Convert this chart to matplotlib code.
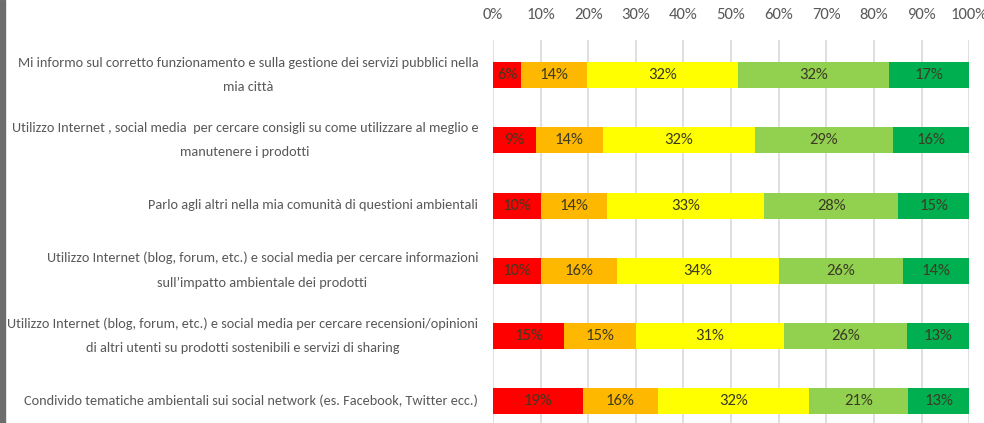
import numpy as np
import matplotlib.pyplot as plt
from matplotlib.patches import Rectangle

plt.rcParams['font.family'] = ['Carlito', 'Roboto Condensed', 'DejaVu Sans']

# domande (dall'alto in basso)
domande = [
    "Mi informo sul corretto funzionamento e sulla gestione dei servizi pubblici nella\nmia città",
    "Utilizzo Internet , social media  per cercare consigli su come utilizzare al meglio e\nmanutenere i prodotti",
    "Parlo agli altri nella mia comunità di questioni ambientali",
    "Utilizzo Internet (blog, forum, etc.) e social media per cercare informazioni\nsull\u2019impatto ambientale dei prodotti",
    "Utilizzo Internet (blog, forum, etc.) e social media per cercare recensioni/opinioni\ndi altri utenti su prodotti sostenibili e servizi di sharing",
    "Condivido tematiche ambientali sui social network (es. Facebook, Twitter ecc.)",
]

# percentuali per livello di frequenza
mai = [6, 9, 10, 10, 15, 19]
raramente = [14, 14, 14, 16, 15, 16]
a_volte = [32, 32, 33, 34, 31, 32]
spesso = [32, 29, 28, 26, 26, 21]
sempre = [17, 16, 15, 14, 13, 13]

colori = ['#FF0000', '#FFB800', '#FFFF00', '#92D050', '#00B050']

serie = np.array([mai, raramente, a_volte, spesso, sempre], dtype=float)
totali = serie.sum(axis=0)
quote = serie / totali * 100  # grafico 100% in pila

fig = plt.figure(figsize=(9.84, 4.23), dpi=100)
ax = fig.add_axes([0.501, 0.0, 0.484, 0.905])

y = np.arange(len(domande))
left = np.zeros(len(domande))
for k in range(len(serie)):
    ax.barh(y, quote[k], left=left, height=0.4, color=colori[k], zorder=2)
    for i in range(len(domande)):
        ax.text(left[i] + quote[k][i] / 2, y[i], f"{int(serie[k][i])}%",
                ha='center', va='center', fontsize=12, color='#3b3b24', zorder=3)
    left += quote[k]

ax.set_xlim(0, 100)
ax.set_ylim(5.34, -0.54)
ax.set_xticks(np.arange(0, 101, 10))
ax.set_xticklabels([f"{t}%" for t in range(0, 101, 10)])
ax.xaxis.tick_top()
ax.tick_params(axis='x', length=0, pad=13, labelsize=12, labelcolor='#595959')
ax.set_yticks([])
ax.grid(axis='x', color='#d9d9d9', linewidth=1.2, zorder=0)
for s in ax.spines.values():
    s.set_visible(False)

# etichette a sinistra, centrate su più righe
for i, d in enumerate(domande):
    fig.text(0.486, 1 - (75 + 65.2 * i) / 423, d, ha='right', va='center',
             multialignment='center', fontsize=10.3, color='#595959', linespacing=2.25)

fig.patches.append(Rectangle((0, 0), 0.005, 1, transform=fig.transFigure,
                             color='#6d6d6d', zorder=0))

fig.savefig('out.png', dpi=100)
